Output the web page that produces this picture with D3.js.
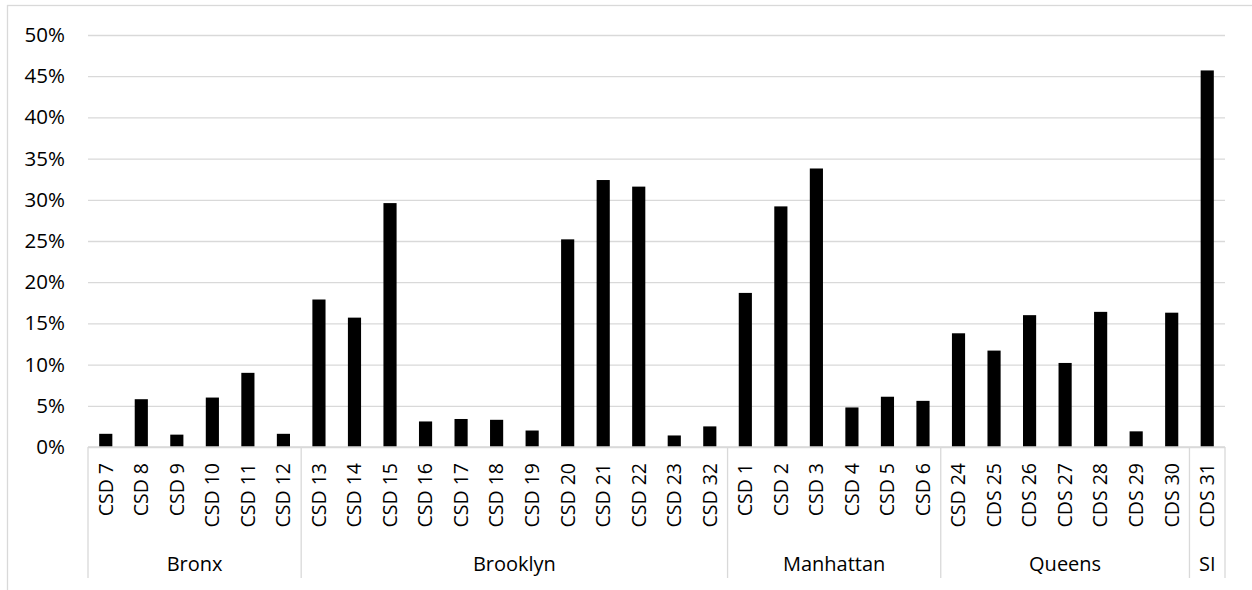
<!DOCTYPE html>
<html>
<head>
<meta charset="utf-8">
<script src="https://cdn.jsdelivr.net/npm/d3@7/dist/d3.min.js"></script>
<style>
  html, body { margin: 0; padding: 0; background: #fff; }
  svg { display: block; }
  text { font-family: "Open Sans", sans-serif; fill: #000; }
</style>
</head>
<body>
<svg id="chart" width="1252" height="590"></svg>
<script>
// ---- data ----
const categories = ["CSD 7","CSD 8","CSD 9","CSD 10","CSD 11","CSD 12",
  "CSD 13","CSD 14","CSD 15","CSD 16","CSD 17","CSD 18","CSD 19","CSD 20","CSD 21","CSD 22","CSD 23","CSD 32",
  "CSD 1","CSD 2","CSD 3","CSD 4","CSD 5","CSD 6",
  "CSD 24","CDS 25","CDS 26","CDS 27","CDS 28","CDS 29","CDS 30",
  "CDS 31"];
const values = [1.6, 5.8, 1.5, 6.0, 9.0, 1.6,
  17.9, 15.7, 29.6, 3.1, 3.4, 3.3, 2.0, 25.2, 32.4, 31.6, 1.4, 2.5,
  18.7, 29.2, 33.8, 4.8, 6.1, 5.6,
  13.8, 11.7, 16.0, 10.2, 16.4, 1.9, 16.3,
  45.7];
const groups = ["Bronx","Brooklyn","Manhattan","Queens","SI"];
const groupSizes = [6, 12, 6, 7, 1];
const yTicks = [0, 5, 10, 15, 20, 25, 30, 35, 40, 45, 50];

(function () {
// ---- layout ----
const svg = d3.select("#chart");
const pLeft = 88, pRight = 1225, pTop = 35, pBase = 447;
const grid = "#d9d9d9";

// chart border
svg.append("rect").attr("x", 7.5).attr("y", 5.5).attr("width", 1250).attr("height", 600)
  .attr("fill", "none").attr("stroke", grid).attr("stroke-width", 1.3);

const x = d3.scaleBand().domain(categories).range([pLeft, pRight]).paddingInner(0.63).paddingOuter(0.315);
const y = d3.scaleLinear().domain([0, 50]).range([pBase, pTop]);

// gridlines + y axis
const yAxis = d3.axisLeft(y).tickValues(yTicks).tickFormat(d => d + "%").tickSize(-(pRight - pLeft)).tickPadding(23);
const gy = svg.append("g").attr("transform", `translate(${pLeft},0)`).call(yAxis);
gy.select(".domain").remove();
gy.selectAll(".tick line").attr("stroke", grid).attr("stroke-width", 1.3);
gy.selectAll(".tick text").style("font-size", "20.5px").style("font-family", "'Open Sans', sans-serif").attr("fill", "#000");

// bars
svg.append("g").selectAll("rect").data(categories).join("rect")
  .attr("x", d => x(d))
  .attr("width", x.bandwidth())
  .attr("y", (d, i) => y(values[i]))
  .attr("height", (d, i) => pBase - y(values[i]))
  .attr("fill", "#000");

// baseline
svg.append("line").attr("x1", pLeft).attr("x2", pRight).attr("y1", pBase).attr("y2", pBase)
  .attr("stroke", grid).attr("stroke-width", 1.3);

// category labels
const gx = svg.append("g").attr("transform", `translate(0,${pBase})`)
  .call(d3.axisBottom(x).tickSize(0).tickPadding(0));
gx.select(".domain").remove();
gx.selectAll(".tick text")
  .style("font-size", "19.5px")
  .style("font-family", "'Open Sans', sans-serif")
  .attr("text-anchor", "end")
  .attr("transform", "rotate(-90)")
  .attr("x", -16)
  .attr("y", 0)
  .attr("dy", "0.35em")
  .attr("fill", "#000");

// group separators + labels
let acc = 0;
const bounds = [0];
groupSizes.forEach(s => { acc += s; bounds.push(acc); });
const bx = i => pLeft + (pRight - pLeft) * bounds[i] / categories.length;
svg.append("g").selectAll("line").data(bounds).join("line")
  .attr("x1", (d, i) => bx(i)).attr("x2", (d, i) => bx(i))
  .attr("y1", pBase).attr("y2", 578)
  .attr("stroke", grid).attr("stroke-width", 1.3);
svg.append("g").selectAll("text").data(groups).join("text")
  .attr("x", (d, i) => (bx(i) + bx(i + 1)) / 2)
  .attr("y", 564)
  .attr("dy", "0.35em")
  .attr("text-anchor", "middle")
  .style("font-size", "20px")
  .text(d => d);
})();
</script>
</body>
</html>
